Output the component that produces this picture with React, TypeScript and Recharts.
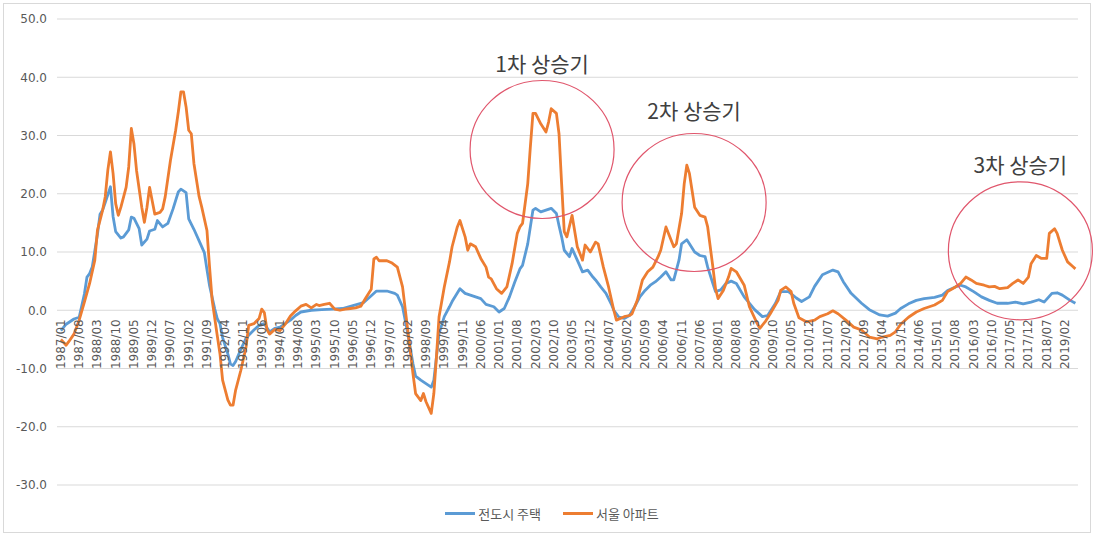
import { LineChart, Line, XAxis, YAxis, CartesianGrid, Legend, ReferenceDot } from 'recharts'

const NUM_FONT = '"DejaVu Sans", sans-serif'
const KO_FONT = '"Noto Sans CJK KR", "Noto Sans", sans-serif'

// x axis labels, one every 7 months
const tickLabels = [
  '1987/01', '1987/08', '1988/03', '1988/10', '1989/05', '1989/12', '1990/07', '1991/02',
  '1991/09', '1992/04', '1992/11', '1993/06', '1994/01', '1994/08', '1995/03', '1995/10',
  '1996/05', '1996/12', '1997/07', '1998/02', '1998/09', '1999/04', '1999/11', '2000/06',
  '2001/01', '2001/08', '2002/03', '2002/10', '2003/05', '2003/12', '2004/07', '2005/02',
  '2005/09', '2006/04', '2006/11', '2007/06', '2008/01', '2008/08', '2009/03', '2009/10',
  '2010/05', '2010/12', '2011/07', '2012/02', '2012/09', '2013/04', '2013/11', '2014/06',
  '2015/01', '2015/08', '2016/03', '2016/10', '2017/05', '2017/12', '2018/07', '2019/02',
]
const toMonth = (s: string) => {
  const [y, m] = s.split('/').map(Number)
  return (y - 1987) * 12 + (m - 1)
}
const tickMonths = tickLabels.map(toMonth)
const yTicks = [-30, -20, -10, 0, 10, 20, 30, 40, 50]

const seriesNames = ['전도시 주택', '서울 아파트']
const seriesColors = ['#5B9BD5', '#ED7D31']

// [months since 1987/01, value]
const cityHousing: [number, number][] = [
  [0, -3.5], [2, -2.4], [5, -1.5], [7, -1.2], [9, 2.8], [10, 5.7], [11, 6.3], [12, 7.4], [14, 13.0],
  [15, 16.5], [16, 17.2], [17, 18.5], [19, 21.2], [20, 16.1], [21, 13.5], [23, 12.4], [24, 12.6],
  [26, 13.8], [27, 16.0], [28, 15.8], [30, 14.0], [31, 11.2], [33, 12.2], [34, 13.6], [36, 13.9],
  [37, 15.4], [39, 14.3], [41, 14.9], [43, 17.4], [45, 20.3], [46, 20.8], [48, 20.2], [49, 15.7],
  [51, 13.9], [53, 11.9], [55, 9.9], [56, 7.0], [57, 4.2], [59, 0.2], [60, -1.5], [61, -2.3],
  [62, -4.7], [64, -7.5], [65, -9.2], [66, -9.5], [67, -8.8], [69, -6.7], [71, -4.8], [72, -4.3],
  [74, -3.4], [76, -2.6], [78, -2.3], [80, -3.7], [82, -3.1], [84, -2.9], [86, -2.3], [88, -1.7],
  [90, -0.9], [92, -0.3], [96, 0.0], [100, 0.1], [104, 0.2], [108, 0.3], [112, 0.8], [116, 1.3],
  [119, 2.5], [121, 3.3], [125, 3.3], [128, 2.9], [129, 2.6], [131, 0.6], [133, -4.0], [135, -9.2],
  [136, -11.3], [138, -12.0], [140, -12.6], [142, -13.2], [143, -12.0], [144, -8.0], [145, -4.0],
  [147, -1.1], [149, 0.6], [150, 1.5], [153, 3.7], [155, 2.9], [157, 2.6], [159, 2.3], [161, 2.0],
  [163, 1.0], [166, 0.6], [168, -0.3], [170, 0.3], [172, 2.3], [174, 4.8], [176, 7.1], [177, 7.7],
  [179, 11.4], [181, 17.2], [182, 17.5], [184, 16.9], [186, 17.2], [188, 17.5], [190, 16.6],
  [191, 14.5], [192, 12.6], [193, 10.3], [195, 9.2], [196, 10.6], [198, 8.6], [200, 6.6], [202, 6.9],
  [204, 5.7], [205, 5.2], [207, 4.0], [209, 2.9], [211, 1.1], [212, 0.0], [214, -1.2], [216, -1.4],
  [218, -0.9], [220, 0.6], [222, 2.3], [224, 3.4], [226, 4.3], [228, 4.9], [230, 5.7], [232, 6.6],
  [234, 5.2], [235, 5.2], [237, 8.6], [238, 11.4], [240, 12.1], [241, 11.4], [243, 10.0], [245, 9.4],
  [247, 9.2], [248, 7.4], [250, 4.6], [251, 3.2], [253, 3.5], [255, 4.6], [257, 5.0], [259, 4.6],
  [262, 2.3], [266, 0.1], [269, -1.1], [271, -0.9], [274, 1.2], [276, 3.2], [279, 3.2], [282, 2.1],
  [284, 1.5], [287, 2.3], [289, 4.1], [292, 6.1], [296, 6.9], [298, 6.6], [300, 4.9], [303, 2.9],
  [307, 1.2], [310, 0.1], [314, -0.8], [317, -1.0], [320, -0.5], [322, 0.3], [325, 1.1], [328, 1.7],
  [331, 2.0], [335, 2.2], [338, 2.6], [340, 3.4], [343, 4.0], [345, 4.3], [347, 4.0], [350, 3.2],
  [353, 2.3], [356, 1.7], [359, 1.2], [363, 1.2], [366, 1.4], [369, 1.1], [372, 1.4], [375, 1.8],
  [377, 1.4], [380, 2.9], [382, 3.0], [384, 2.6], [386, 2.0], [387, 1.7], [389, 1.2],
]

const seoulApt: [number, number][] = [
  [0, -5.0], [2, -6.0], [3, -5.4], [5, -4.1], [7, -1.7], [9, 1.4], [11, 4.6], [13, 8.6], [14, 13.7],
  [16, 17.2], [17, 19.5], [18, 24.1], [19, 27.2], [20, 23.5], [21, 18.3], [22, 16.3], [23, 17.7],
  [25, 21.1], [26, 24.6], [27, 31.2], [28, 28.6], [29, 24.0], [31, 17.7], [32, 15.1], [33, 17.7],
  [34, 21.1], [35, 18.8], [36, 16.5], [38, 16.8], [39, 17.4], [40, 19.5], [42, 25.7], [44, 30.9],
  [45, 34.0], [46, 37.5], [47, 37.5], [48, 34.9], [49, 30.9], [50, 30.3], [51, 25.2], [53, 19.5],
  [54, 17.7], [56, 13.7], [57, 7.4], [58, 1.7], [60, -4.5], [61, -7.5], [62, -12.0], [64, -15.4],
  [65, -16.3], [66, -16.3], [67, -13.7], [69, -10.3], [71, -6.3], [72, -2.6], [74, -2.3], [76, -1.4],
  [77, 0.2], [78, -0.4], [79, -3.3], [80, -4.1], [82, -3.3], [84, -3.5], [86, -2.4], [88, -1.0],
  [90, -0.1], [92, 0.7], [94, 1.0], [96, 0.4], [98, 1.0], [99, 0.8], [101, 1.0], [103, 1.2],
  [105, 0.2], [107, 0.0], [109, 0.2], [111, 0.3], [113, 0.4], [115, 0.7], [117, 2.2], [119, 3.6],
  [120, 8.8], [121, 9.1], [122, 8.5], [125, 8.5], [127, 8.1], [129, 7.4], [131, 4.0], [133, -3.4],
  [135, -10.9], [136, -14.3], [138, -15.5], [139, -14.3], [140, -15.7], [142, -17.7], [143, -14.3],
  [144, -8.0], [145, -1.1], [147, 4.0], [149, 8.3], [150, 10.9], [152, 14.3], [153, 15.4], [155, 12.6],
  [156, 10.3], [157, 11.4], [159, 10.9], [161, 8.9], [163, 7.4], [164, 5.7], [165, 5.4], [167, 3.7],
  [169, 2.9], [171, 4.0], [173, 8.0], [175, 13.2], [176, 14.3], [177, 14.9], [179, 21.7], [180, 28.0],
  [181, 33.8], [182, 33.8], [184, 32.0], [186, 30.6], [187, 32.3], [188, 34.6], [190, 33.8],
  [191, 30.3], [192, 21.7], [193, 13.5], [194, 12.6], [196, 16.3], [198, 10.9], [200, 8.6],
  [201, 11.2], [203, 10.0], [205, 11.7], [206, 11.4], [208, 7.4], [210, 4.0], [212, 0.0], [213, -1.7],
  [216, -1.1], [218, -0.9], [219, -0.6], [221, 1.7], [223, 5.2], [225, 6.6], [227, 7.4], [229, 9.2],
  [230, 10.3], [232, 14.3], [234, 12.0], [235, 10.9], [236, 11.4], [238, 16.6], [239, 21.7],
  [240, 24.9], [241, 23.5], [242, 20.6], [243, 17.7], [245, 16.3], [247, 16.0], [248, 14.3],
  [250, 7.4], [251, 3.7], [252, 2.0], [254, 3.4], [256, 5.7], [257, 7.2], [259, 6.6], [262, 4.3],
  [264, 0.6], [267, -2.3], [268, -3.1], [270, -2.0], [272, -0.6], [275, 1.7], [276, 3.4], [278, 4.0],
  [280, 3.2], [281, 1.2], [283, -1.3], [286, -2.0], [289, -1.7], [291, -1.1], [294, -0.6], [296, -0.1],
  [298, -0.6], [301, -1.7], [304, -2.9], [307, -3.4], [310, -4.6], [313, -4.9], [315, -4.6],
  [318, -4.3], [320, -3.7], [322, -2.4], [325, -1.2], [328, -0.3], [331, 0.3], [335, 0.9], [338, 1.7],
  [340, 3.2], [343, 4.0], [345, 4.6], [347, 5.7], [349, 5.2], [351, 4.6], [354, 4.3], [356, 4.0],
  [358, 4.1], [360, 3.7], [363, 3.9], [365, 4.6], [367, 5.2], [369, 4.6], [371, 5.7], [372, 8.0],
  [374, 9.4], [376, 8.9], [378, 8.9], [379, 13.2], [381, 14.0], [382, 13.2], [384, 10.3], [386, 8.3],
  [388, 7.5], [389, 7.1],
]

// "상승기" circles: label, center month, center value, label gap
const boomLabels = ['1차 상승기', '2차 상승기', '3차 상승기']
const boomMonths = [184.5, 242.8, 367.9]
const boomValues = [27.6, 18.5, 10.2]
const boomGaps = [8, 14, 9]

const toRows = (pts: [number, number][]) => pts.map(([m, v]) => ({ m, v }))

const W = 1094
const H = 538
const TOP = 19
const X_AXIS_H = 53
const Y_MIN = -30
const Y_MAX = 50
const PLOT_H = H - TOP - X_AXIS_H
const ZERO_Y = TOP + (PLOT_H * Y_MAX) / (Y_MAX - Y_MIN)

const MonthTick = (props: any) => {
  const { x, payload } = props
  const y = ZERO_Y + 9
  const label = tickLabels[tickMonths.indexOf(payload.value)]
  return (
    <text
      x={x}
      y={y}
      transform={`rotate(-90, ${x}, ${y})`}
      textAnchor="end"
      dominantBaseline="central"
      fontSize={12}
      fontFamily={NUM_FONT}
      fill="#595959"
    >
      {label}
    </text>
  )
}

const Ellipse = (props: any) => (
  <ellipse cx={props.cx} cy={props.cy} rx={72} ry={props.r} fill="none" stroke="#e0566c" strokeWidth={1.2} />
)

// keep series order (recharts sorts legend items by name otherwise)
const LegendContent = () => (
  <div
    style={{
      display: 'flex',
      justifyContent: 'center',
      gap: 22,
      paddingLeft: 10,
      fontSize: 13,
      color: '#595959',
      fontFamily: KO_FONT,
    }}
  >
    {seriesNames.map((name, i) => (
      <div key={name} style={{ display: 'flex', alignItems: 'center' }}>
        <span style={{ width: 30, height: 3, background: seriesColors[i], marginRight: 3 }} />
        <span>{name}</span>
      </div>
    ))}
  </div>
)

export default function App() {
  return (
    <div style={{ position: 'absolute', left: 0, top: 0, width: W, height: H, background: '#fff' }}>
      <div
        style={{
          position: 'absolute',
          left: 3,
          top: 3,
          width: 1088,
          height: 530,
          border: '1px solid #d9d9d9',
          boxSizing: 'border-box',
          pointerEvents: 'none',
        }}
      />
      <LineChart width={W} height={H} margin={{ top: TOP, right: 16, bottom: 0, left: 0 }}>
        <CartesianGrid vertical={false} stroke="#d9d9d9" />
        <XAxis
          type="number"
          dataKey="m"
          domain={[-1.5, 390]}
          ticks={tickMonths}
          interval={0}
          axisLine={false}
          tickLine={false}
          height={X_AXIS_H}
          tick={<MonthTick />}
        />
        <YAxis
          type="number"
          domain={[Y_MIN, Y_MAX]}
          ticks={yTicks}
          width={57}
          axisLine={false}
          tickLine={false}
          tickSize={0}
          tickMargin={10}
          tickFormatter={(v: number) => v.toFixed(1)}
          tick={{ fontSize: 12, fill: '#595959', fontFamily: NUM_FONT }}
        />
        <Legend
          verticalAlign="middle"
          align="center"
          wrapperStyle={{ top: 504, left: 0, width: W }}
          content={<LegendContent />}
        />
        <Line
          data={toRows(cityHousing)}
          dataKey="v"
          name={seriesNames[0]}
          type="linear"
          stroke={seriesColors[0]}
          strokeWidth={2.8}
          strokeLinejoin="round"
          dot={false}
          activeDot={false}
          isAnimationActive={false}
        />
        <Line
          data={toRows(seoulApt)}
          dataKey="v"
          name={seriesNames[1]}
          type="linear"
          stroke={seriesColors[1]}
          strokeWidth={2.8}
          strokeLinejoin="round"
          dot={false}
          activeDot={false}
          isAnimationActive={false}
        />
        {boomLabels.map((label, i) => (
          <ReferenceDot
            key={label}
            x={boomMonths[i]}
            y={boomValues[i]}
            r={69}
            shape={<Ellipse />}
            label={{
              value: label,
              position: 'top',
              offset: boomGaps[i],
              fontSize: 21,
              fill: '#404040',
              fontFamily: KO_FONT,
            }}
          />
        ))}
      </LineChart>
    </div>
  )
}
